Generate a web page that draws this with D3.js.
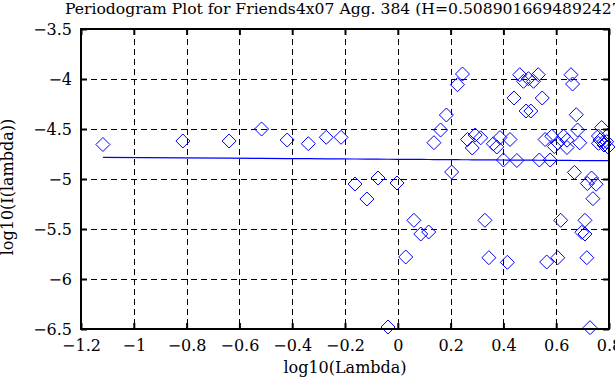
<!DOCTYPE html>
<html>
<head>
<meta charset="utf-8">
<script src="https://cdn.jsdelivr.net/npm/d3@7"></script>
<style>
html, body { margin: 0; padding: 0; background: #fff; }
svg { display: block; }
</style>
</head>
<body>
<svg id="chart" width="615" height="385"></svg>
<script>
// ---- data ----
const titleText = "Periodogram Plot for Friends4x07 Agg. 384 (H=0.5089016694892427)";
const xLabel = "log10(Lambda)";
const yLabel = "log10(I(lambda))";
const hurst = 0.5089016694892427;

const logLambda = [
  -1.117, -0.814, -0.639, -0.516, -0.419, -0.339, -0.271, -0.215,
  -0.162, -0.117, -0.075, -0.003, -0.037,
  0.137, 0.162, 0.184, 0.204, 0.061, 0.087, 0.117, 0.030,
  0.226, 0.245, 0.264, 0.282, 0.293, 0.314, 0.330, 0.345, 0.415,
  0.362, 0.375, 0.387, 0.425, 0.400, 0.451, 0.536, 0.577,
  0.462, 0.532, 0.476, 0.495, 0.514, 0.440, 0.547, 0.486, 0.504,
  0.558, 0.583, 0.593, 0.606, 0.628, 0.641, 0.641, 0.564, 0.606,
  0.656, 0.662, 0.676, 0.681, 0.689, 0.617, 0.709, 0.697, 0.709, 0.716,
  0.669, 0.734, 0.718, 0.751, 0.739, 0.728,
  0.772, 0.760, 0.766, 0.780, 0.791, 0.760, 0.781, 0.796
];
const logPower = [
  -4.655, -4.620, -4.620, -4.500, -4.610, -4.647, -4.583, -4.583,
  -5.050, -5.200, -4.990, -5.040, -6.480,
  -4.637, -4.510, -4.360, -4.930, -5.413, -5.550, -5.530, -5.780,
  -4.057, -3.950, -4.605, -4.690, -4.560, -4.588, -5.413, -5.787, -5.833,
  -4.648, -4.680, -4.586, -4.605, -4.810, -4.815, -4.810, -4.810,
  -3.957, -3.957, -4.023, -3.997, -4.023, -4.190, -4.190, -4.320, -4.320,
  -4.605, -4.572, -4.675, -4.638, -4.572, -4.612, -4.685, -5.830, -5.787,
  -3.957, -4.050, -4.357, -4.510, -4.638, -5.413, -5.413, -5.533, -5.550, -5.787,
  -4.934, -4.990, -5.045, -5.052, -5.197, -6.487,
  -4.485, -4.570, -4.610, -4.628, -4.627, -4.643, -4.660, -4.680
];
const xTicks = [-1.2, -1, -0.8, -0.6, -0.4, -0.2, 0, 0.2, 0.4, 0.6, 0.8];
const yTicks = [-3.5, -4, -4.5, -5, -5.5, -6, -6.5];

// fitted line: slope = 1 - 2H
const slope = 1 - 2 * hurst;
const intercept = -4.803;

// ---- layout ----
const svg = d3.select("#chart");
const mLeft = 81, mRight = 609, mTop = 29, mBottom = 329;
const x = d3.scaleLinear().domain([-1.2, 0.8]).range([mLeft, mRight]);
const y = d3.scaleLinear().domain([-6.5, -3.5]).range([mBottom, mTop]);
const fmt = v => {
  const s = String(+Math.abs(v).toFixed(2));
  return (v < 0 ? "\u2212" : "") + s;
};
const blue = "#0000ff";
const fontSize = "16px";
const fontFam = "DejaVu Serif";

// grid
const grid = svg.append("g").attr("stroke", "#000").attr("stroke-width", 1)
  .attr("stroke-dasharray", "6,4").attr("shape-rendering", "crispEdges");
grid.selectAll("line.v").data(xTicks.slice(1, -1)).join("line").attr("class", "v")
  .attr("x1", d => Math.round(x(d)) + 0.5).attr("x2", d => Math.round(x(d)) + 0.5)
  .attr("y1", mTop).attr("y2", mBottom);
grid.selectAll("line.h").data(yTicks.slice(1, -1)).join("line").attr("class", "h")
  .attr("y1", d => Math.round(y(d)) + 0.5).attr("y2", d => Math.round(y(d)) + 0.5)
  .attr("x1", mLeft).attr("x2", mRight);

// data points (diamonds)
const pts = logLambda.map((v, i) => [v, logPower[i]]);
const r = 7;
svg.append("g").selectAll("path").data(pts).join("path")
  .attr("d", d => {
    const cx = x(d[0]), cy = y(d[1]);
    return `M${cx},${cy - r}L${cx + r},${cy}L${cx},${cy + r}L${cx - r},${cy}Z`;
  })
  .attr("fill", "none").attr("stroke", blue).attr("stroke-width", 1);

// fitted line
const xs = logLambda.slice().sort((a, b) => a - b);
const line = d3.line().x(d => x(d)).y(d => y(intercept + slope * d));
svg.append("path").datum(xs).attr("d", line)
  .attr("fill", "none").attr("stroke", blue).attr("stroke-width", 1.2);

// axes with inward ticks
const tick = 6;
const axB = svg.append("g").attr("transform", `translate(0,${mBottom})`)
  .call(d3.axisBottom(x).tickValues(xTicks).tickFormat(fmt).tickSizeInner(-tick).tickSizeOuter(0).tickPadding(11));
const axT = svg.append("g").attr("transform", `translate(0,${mTop})`)
  .call(d3.axisTop(x).tickValues(xTicks).tickFormat("").tickSizeInner(-tick).tickSizeOuter(0));
const axL = svg.append("g").attr("transform", `translate(${mLeft},0)`)
  .call(d3.axisLeft(y).tickValues(yTicks).tickFormat(fmt).tickSizeInner(-tick).tickSizeOuter(0).tickPadding(9));
const axR = svg.append("g").attr("transform", `translate(${mRight},0)`)
  .call(d3.axisRight(y).tickValues(yTicks).tickFormat("").tickSizeInner(-tick).tickSizeOuter(0));
[axB, axT, axL, axR].forEach(a => {
  a.attr("font-family", fontFam).attr("font-size", fontSize);
  a.select(".domain").remove();
  a.selectAll(".tick line").attr("stroke", "#000").attr("stroke-width", 2);
  a.selectAll("text").attr("fill", "#000");
});

// frame
svg.append("rect").attr("x", mLeft).attr("y", mTop)
  .attr("width", mRight - mLeft).attr("height", mBottom - mTop)
  .attr("fill", "none").attr("stroke", "#000").attr("stroke-width", 2);

// title & labels
svg.append("text").attr("x", 65).attr("y", 14)
  .attr("font-family", fontFam).attr("font-size", "15.6px").text(titleText);
svg.append("text").attr("x", 345).attr("y", 373).attr("text-anchor", "middle")
  .attr("font-family", fontFam).attr("font-size", fontSize).text(xLabel);
svg.append("text").attr("transform", "translate(13,187) rotate(-90)")
  .attr("text-anchor", "middle")
  .attr("font-family", fontFam).attr("font-size", fontSize).text(yLabel);
</script>
</body>
</html>
